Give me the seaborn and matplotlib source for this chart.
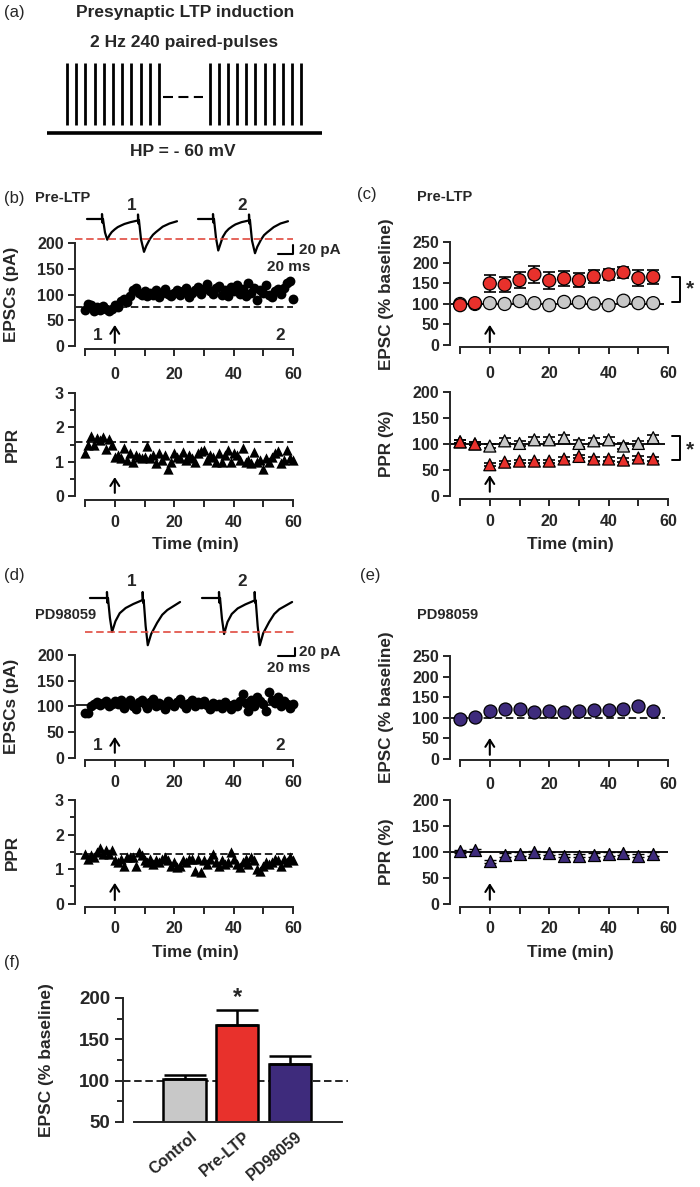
"""
Presynaptic LTP figure: pulse protocol, EPSC / PPR time courses and summary bars.
"""

import numpy as np
import pandas as pd
import seaborn as sns
import matplotlib.pyplot as plt
from matplotlib.transforms import ScaledTranslation

sns.set_style("ticks")
plt.rcParams["font.family"] = ["Liberation Sans", "DejaVu Sans"]
plt.rcParams["font.weight"] = "bold"
plt.rcParams["axes.labelweight"] = "bold"
plt.rcParams["axes.linewidth"] = 1.4

RED = "#e8312c"
GRAY = "#c8c8c8"
PURPLE = "#3e2b7c"

TICK_FS = 11.5
LABEL_FS = 12.3

# ---- data ----
pulse_left = [0, 1, 2, 3, 4, 5, 6, 7, 8, 9, 10]
pulse_right = [15.5, 16.5, 17.5, 18.5, 19.5, 20.5, 21.5, 22.5, 23.5, 24.5, 25.5]

minutes = list(range(-10, 61))

b_epsc = [70, 82, 80, 68, 75, 70, 77, 72, 68, 72,
          80, 76, 88, 92, 85, 97, 108, 112, 104, 100,
          106, 98, 104, 100, 108, 96, 104, 110, 102, 98,
          104, 108, 100, 106, 112, 96, 104, 108, 114, 102,
          110, 120, 106, 102, 112, 116, 100, 108, 98, 114,
          106, 118, 102, 110, 98, 122, 104, 112, 90, 108,
          104, 118, 100, 96, 106, 110, 102, 112, 122, 126, 92]
b_ppr = [1.25, 1.5, 1.75, 1.5, 1.68, 1.62, 1.72, 1.38, 1.65, 1.5,
         1.15, 1.2, 1.12, 1.4, 1.05, 1.25, 1.0, 1.2, 1.15, 1.1,
         1.15, 1.45, 1.1, 1.2, 0.95, 1.25, 1.05, 1.2, 0.8, 1.0,
         1.25, 1.15, 1.1, 1.28, 1.05, 1.2, 1.1, 1.0, 1.25, 1.3,
         1.35, 1.05, 1.2, 1.15, 1.0, 1.25, 1.0, 1.2, 1.35, 1.0,
         1.25, 1.2, 1.05, 1.4, 1.0, 1.05, 0.95, 1.28, 1.0, 1.05,
         0.8, 1.1, 1.0, 1.15, 1.25, 1.3, 0.95, 1.05, 1.35, 1.1, 1.05]
b_epsc_base = 76.5
b_ppr_base = 1.57

d_epsc = [88, 87, 100, 104, 108, 103, 106, 110, 100, 104,
          110, 104, 112, 98, 106, 113, 101, 96, 108, 112,
          104, 98, 108, 114, 100, 106, 102, 96, 110, 104,
          100, 108, 115, 104, 98, 106, 112, 100, 108, 104,
          110, 102, 96, 106, 100, 104, 98, 108, 102, 96,
          104, 100, 110, 124, 106, 92, 112, 100, 118, 110,
          104, 92, 128, 112, 106, 118, 100, 110, 104, 98, 104]
d_ppr = [1.45, 1.3, 1.4, 1.35, 1.5, 1.6, 1.45, 1.55, 1.45, 1.55,
         1.25, 1.2, 1.3, 1.1, 1.35, 1.35, 1.35, 1.1, 1.5, 1.4,
         1.25, 1.2, 1.3, 1.15, 1.25, 1.2, 1.3, 1.35, 1.25, 1.1,
         1.2, 1.05, 1.1, 1.25, 1.2, 1.3, 1.3, 0.95, 1.3, 0.9,
         1.25, 1.15, 1.3, 1.45, 1.2, 1.1, 1.25, 1.15, 1.2, 1.5,
         1.3, 1.15, 1.05, 1.2, 1.3, 1.15, 1.35, 1.25, 1.0, 0.95,
         1.1, 1.2, 1.15, 1.2, 1.3, 1.25, 1.1, 1.3, 1.2, 1.35, 1.25]
d_epsc_base = 102
d_ppr_base = 1.43

# example traces (ms, pA), paired pulses
b_trace_t = [0, 20, 20, 20.6, 21.3, 24, 27, 30, 33, 37, 41, 46, 50, 58, 66,
             68, 68, 68.6, 69.3, 72, 76, 79, 84, 88, 92, 101, 110, 120]
b_trace1 = [0, 0, 11, -8, 0, -30, -46, -36, -29, -23, -18, -14, -11, -7, -4,
            -3, 10, -10, -3, -45, -73, -60, -44, -35, -29, -17, -10, -5]
b_trace2 = [0, 0, 11, -8, 0, -42, -70, -55, -40, -29, -22, -16, -12, -7, -4,
            -3, 10, -10, -3, -48, -76, -62, -46, -36, -30, -18, -10, -5]
d_trace_t = [0, 20, 20, 20.6, 21.2, 23.5, 26, 30, 35, 42, 51, 62,
             62, 62.6, 63.2, 65.5, 68, 72, 79, 85, 91, 106]
d_trace1 = [0, 0, 15, -12, 0, -50, -85, -58, -38, -25, -15, -5,
            15, -12, -5, -70, -118, -90, -62, -42, -30, -10]
d_trace2 = [0, 0, 15, -12, 0, -52, -90, -60, -40, -26, -16, -6,
            15, -12, -6, -70, -118, -88, -60, -40, -28, -10]

bins = [-10, -5, 0, 5, 10, 15, 20, 25, 30, 35, 40, 45, 50, 55]
c_epsc_ctrl = [100, 100, 102, 100, 107, 102, 97, 105, 104, 101, 97, 108, 102, 102]
c_epsc_ctrl_err = [3, 3, 4, 4, 4, 4, 4, 4, 4, 4, 4, 4, 4, 4]
c_epsc_ltp = [97, 102, 150, 147, 158, 172, 157, 162, 158, 167, 172, 177, 163, 166]
c_epsc_ltp_err = [4, 4, 20, 18, 20, 20, 20, 18, 17, 16, 14, 14, 20, 17]
c_ppr_ctrl = [104, 100, 96, 106, 101, 108, 108, 112, 101, 106, 108, 96, 101, 112]
c_ppr_ctrl_err = [3, 3, 4, 5, 5, 5, 5, 6, 6, 5, 6, 5, 5, 6]
c_ppr_ltp = [104, 100, 60, 65, 67, 67, 67, 71, 76, 71, 71, 69, 73, 71]
c_ppr_ltp_err = [3, 3, 3, 3, 3, 3, 3, 3, 3, 3, 3, 3, 3, 3]

e_epsc = [98, 102, 117, 121, 121, 114, 117, 115, 117, 118, 119, 121, 128, 117]
e_epsc_err = [3, 3, 4, 4, 4, 4, 4, 4, 4, 4, 4, 4, 4, 4]
e_ppr = [101, 103, 82, 94, 96, 99, 97, 93, 93, 94, 96, 97, 93, 96]
e_ppr_err = [3, 3, 3, 3, 3, 3, 3, 3, 3, 3, 3, 3, 3, 3]

f_groups = ["Control", "Pre-LTP", "PD98059"]
f_mean = [102, 167, 120]
f_err = [5, 18, 10]

# ---- layout helpers (pixel boxes) ----
W, H = 700, 1187
fig = plt.figure(figsize=(W / 100, H / 100), dpi=100)


def rect(x0, y0, x1, y1):
    return [x0 / W, 1 - y1 / H, (x1 - x0) / W, (y1 - y0) / H]


def ftext(x, y, s, **kw):
    kw.setdefault("va", "center")
    fig.text(x / W, 1 - y / H, s, **kw)


X_LEFT = -13.4
DASH = (0, (4.5, 2.2))


def time_axes(box, ylim, yspan, yticks, yminor=None, xpad=6):
    ax = fig.add_axes(rect(*box))
    ax.patch.set_alpha(0)
    ax.set_xlim(X_LEFT, 62)
    ax.set_ylim(*ylim)
    sns.despine(ax=ax)
    ax.spines["left"].set_bounds(*yspan)
    ax.spines["bottom"].set_bounds(-10, 60)
    ax.set_xticks([0, 20, 40, 60])
    ax.set_xticks([-10, 10, 30, 50], minor=True)
    ax.set_yticks(yticks)
    if yminor is not None:
        ax.set_yticks(yminor, minor=True)
    ax.tick_params(axis="x", which="both", length=5, width=1.4, pad=xpad, labelsize=TICK_FS)
    ax.tick_params(axis="y", which="major", length=5, width=1.4, pad=3, labelsize=TICK_FS)
    ax.tick_params(axis="y", which="minor", length=3.5, width=1.4)
    return ax


def ylab(ax, text, x, y, size=LABEL_FS):
    ax.set_ylabel(text, fontsize=size)
    ax.yaxis.set_label_coords(x / W, 1 - y / H, transform=fig.transFigure)
    ax.yaxis.label.set_va("center")


def xlab(ax, text, x, y, size=LABEL_FS):
    ax.set_xlabel(text, fontsize=size)
    ax.xaxis.set_label_coords(x / W, 1 - y / H, transform=fig.transFigure)
    ax.xaxis.label.set_va("center")


def up_arrow(ax, x, y0, y1):
    ax.annotate("", xy=(x, y1), xytext=(x, y0),
                arrowprops=dict(arrowstyle="->, head_length=0.5, head_width=0.32",
                                lw=1.5, color="black", shrinkA=0, shrinkB=0))


def bracket(ax, x0, x1, ytop, ybot, ystar, xstar):
    ax.plot([x0, x1, x1, x0], [ytop, ytop, ybot, ybot], color="black", lw=1.4, clip_on=False)
    ax.text(xstar, ystar, "*", ha="center", va="center", fontsize=15)


def traces(box, xlim, ylim, t, tr1, tr2, off1, off2, red_y, red_x, bar_x, bar_y, bar_w, n_pos, n_y):
    ax = fig.add_axes(rect(*box))
    ax.axis("off")
    ax.set_xlim(*xlim)
    ax.set_ylim(*ylim)
    ax.plot(np.array(t) + off1, tr1, color="black", lw=1.6)
    ax.plot(np.array(t) + off2, tr2, color="black", lw=1.6)
    ax.hlines(red_y, red_x[0], red_x[1], colors="#e04a3f", linestyles=DASH, lw=1.2)
    ax.plot([bar_x - bar_w, bar_x, bar_x], [bar_y[1], bar_y[1], bar_y[0]], color="black", lw=1.5)
    ax.text(n_pos[0], n_y, "1", ha="center", va="center", fontsize=LABEL_FS)
    ax.text(n_pos[1], n_y, "2", ha="center", va="center", fontsize=LABEL_FS)
    return ax


def scatter_pair(ax, ctrl, ctrl_err, test, test_err, test_color, marker, size):
    df = pd.DataFrame({"time": bins + bins,
                       "value": ctrl + test,
                       "group": ["ctrl"] * len(bins) + ["test"] * len(bins)})
    ax.errorbar(bins, ctrl, yerr=ctrl_err, fmt="none", ecolor="black",
                elinewidth=1.2, capsize=4, capthick=1.2, zorder=2)
    ax.errorbar(bins, test, yerr=test_err, fmt="none", ecolor="black",
                elinewidth=1.2, capsize=4, capthick=1.2, zorder=2)
    sns.scatterplot(data=df, x="time", y="value", hue="group",
                    palette={"ctrl": GRAY, "test": test_color}, marker=marker,
                    s=size, edgecolor="black", linewidth=0.9, legend=False, ax=ax, zorder=3)
    ax.set_xlabel("")


# ---- (a) protocol ----
ax_a = fig.add_axes(rect(40, 55, 330, 140))
ax_a.axis("off")
ax_a.set_xlim(-2.93, 28.6)
ax_a.set_ylim(-0.24, 1.13)
ax_a.vlines(pulse_left, 0, 1, colors="black", lw=2)
ax_a.vlines(pulse_right, 0, 1, colors="black", lw=2)
ax_a.hlines(0.45, 10.4, 14.8, colors="black", linestyles=(0, (4.8, 2.6)), lw=1.5)
ax_a.hlines(-0.13, -2.2, 27.7, colors="black", lw=2.6)

ftext(4, 13, "(a)", fontsize=12, fontweight="normal")
ftext(185, 12, "Presynaptic LTP induction", ha="center", fontsize=12.5)
ftext(184, 42, "2 Hz 240 paired-pulses", ha="center", fontsize=12.5)
ftext(183, 152, "HP = - 60 mV", ha="center", fontsize=12.5)

# ---- (b) Pre-LTP example ----
ftext(4, 198, "(b)", fontsize=12, fontweight="normal")
ftext(35, 198, "Pre-LTP", fontsize=10.5)

ax = time_axes((75, 238, 299, 349), (-5.8, 210), (0, 200), [0, 50, 100, 150, 200], xpad=8)
sns.scatterplot(x=minutes, y=b_epsc, color="black", s=50, linewidth=0, ax=ax, zorder=3)
ax.hlines(b_epsc_base, X_LEFT, 60, colors="black", linestyles=DASH, lw=1.2)
ax.text(-5.7, 21, "1", ha="center", va="center", fontsize=LABEL_FS)
ax.text(55.5, 21, "2", ha="center", va="center", fontsize=LABEL_FS)
up_arrow(ax, 0, 6, 41)
ylab(ax, "EPSCs (pA)", 12, 294)

ax = time_axes((75, 391.3, 299, 500), (-0.117, 3.05), (0, 3), [0, 1, 2, 3], [0.5, 1.5, 2.5], xpad=6)
sns.scatterplot(x=minutes, y=b_ppr, color="black", marker="^", s=55, linewidth=0, ax=ax, zorder=3)
ax.hlines(b_ppr_base, X_LEFT, 60, colors="black", linestyles=DASH, lw=1.2)
up_arrow(ax, 0, 0.09, 0.55)
ylab(ax, "PPR", 12, 444)
xlab(ax, "Time (min)", 195, 545)

traces((75, 200, 300, 260), (0, 300), (-91.1, 42.2), b_trace_t, b_trace1, b_trace2,
       16, 164, -44.4, (0, 290.7), 290.7, (-57.8, -77.8), 20, (76, 222.7), 28.9)
ftext(299, 250, "20 pA", fontsize=11)
ftext(289, 267, "20 ms", ha="center", fontsize=11)

# ---- (c) Pre-LTP summary ----
ftext(357, 195, "(c)", fontsize=12, fontweight="normal")
ftext(417, 197, "Pre-LTP", fontsize=10.5)

ax = time_axes((450, 238.4, 674, 347), (-5, 260), (0, 250), [0, 50, 100, 150, 200, 250], xpad=9)
ax.hlines(100, X_LEFT, 58.5, colors="black", lw=1.3, zorder=1)
scatter_pair(ax, c_epsc_ctrl, c_epsc_ctrl_err, c_epsc_ltp, c_epsc_ltp_err, RED, "o", 88)
up_arrow(ax, 0, 7, 49)
bracket(ax, 61.4, 64, 166, 105, 136.6, 67.4)
ylab(ax, "EPSC (% baseline)", 387, 294)

ax = time_axes((450, 389.4, 674, 499), (-6, 205), (0, 200), [0, 50, 100, 150, 200], xpad=6)
ax.hlines(100, X_LEFT, 59, colors="black", lw=1.3, zorder=1)
scatter_pair(ax, c_ppr_ctrl, c_ppr_ctrl_err, c_ppr_ltp, c_ppr_ltp_err, RED, "^", 75)
up_arrow(ax, 0, 8, 40)
bracket(ax, 61.4, 64, 115, 69, 88, 67.4)
ylab(ax, "PPR (%)", 387, 444)
xlab(ax, "Time (min)", 570, 545)

# ---- (d) PD98059 example ----
ftext(4, 575, "(d)", fontsize=12, fontweight="normal")
ftext(35, 615, "PD98059", fontsize=10.5)

ax = time_axes((75, 649.9, 299, 760), (-4, 210), (0, 200), [0, 50, 100, 150, 200], xpad=6)
ax.hlines(d_epsc_base, X_LEFT, 60, colors="black", lw=1.2, zorder=1)
sns.scatterplot(x=minutes, y=d_epsc, color="black", s=50, linewidth=0, ax=ax, zorder=3)
ax.text(-5.7, 25, "1", ha="center", va="center", fontsize=LABEL_FS)
ax.text(55.5, 25, "2", ha="center", va="center", fontsize=LABEL_FS)
up_arrow(ax, 0, 10, 41)
ylab(ax, "EPSCs (pA)", 12, 706)

ax = time_axes((75, 798.3, 299, 907), (-0.1, 3.05), (0, 3), [0, 1, 2, 3], [0.5, 1.5, 2.5], xpad=5)
sns.scatterplot(x=minutes, y=d_ppr, color="black", marker="^", s=55, linewidth=0, ax=ax, zorder=3)
ax.hlines(d_ppr_base, X_LEFT, 60, colors="black", linestyles=DASH, lw=1.2)
up_arrow(ax, 0, 0.1, 0.6)
ylab(ax, "PPR", 12, 852)
xlab(ax, "Time (min)", 195, 952)

traces((75, 575, 300, 670), (0, 264.7), (-180, 57.5), d_trace_t, d_trace1, d_trace2,
       17.6, 149.4, -85, (11.8, 258.8), 258.8, (-125, -145), 20, (67, 196.4), 40)
ftext(299, 652, "20 pA", fontsize=11)
ftext(289, 668, "20 ms", ha="center", fontsize=11)

# ---- (e) PD98059 summary ----
ftext(360, 575, "(e)", fontsize=12, fontweight="normal")
ftext(417, 615, "PD98059", fontsize=10.5)

ax = time_axes((450, 651.9, 674, 760.2), (-3, 260), (0, 250), [0, 50, 100, 150, 200, 250], xpad=7)
ax.hlines(100, X_LEFT, 59, colors="black", linestyles=DASH, lw=1.2, zorder=1)
ax.errorbar(bins, e_epsc, yerr=e_epsc_err, fmt="none", ecolor="black", elinewidth=1.2, capsize=4, zorder=2)
sns.scatterplot(x=bins, y=e_epsc, color=PURPLE, s=88, edgecolor="black", linewidth=0.9, ax=ax, zorder=3)
up_arrow(ax, 0, 10, 51)
ylab(ax, "EPSC (% baseline)", 387, 707)

ax = time_axes((450, 797.4, 674, 907), (-6, 205), (0, 200), [0, 50, 100, 150, 200], xpad=5)
ax.hlines(100, X_LEFT, 60, colors="black", lw=1.3, zorder=1)
ax.errorbar(bins, e_ppr, yerr=e_ppr_err, fmt="none", ecolor="black", elinewidth=1.2, capsize=4, zorder=2)
sns.scatterplot(x=bins, y=e_ppr, color=PURPLE, marker="^", s=75, edgecolor="black", linewidth=0.9, ax=ax, zorder=3)
up_arrow(ax, 0, 8, 40)
ylab(ax, "PPR (%)", 387, 852)
xlab(ax, "Time (min)", 570, 952)

# ---- (f) summary bars ----
ftext(4, 963, "(f)", fontsize=12, fontweight="normal")
ax = fig.add_axes(rect(123, 989.7, 348, 1122))
ax.patch.set_alpha(0)
ax.axhline(100, color="black", linestyle=DASH, lw=1.2, zorder=0.5)
sns.barplot(x=f_groups, y=f_mean, hue=f_groups, palette=[GRAY, RED, PURPLE], errorbar=None,
            saturation=1, width=0.8, edgecolor="black", linewidth=1.8, legend=False, ax=ax, zorder=1)
ax.errorbar([0, 1, 2], f_mean, yerr=[[0, 0, 0], f_err], fmt="none", ecolor="black",
            elinewidth=1.8, capsize=15, capthick=1.8, zorder=2)
ax.text(1, 201, "*", ha="center", va="center", fontsize=17)
ax.set_xlim(-1.17, 3.11)
ax.set_ylim(50, 210)
sns.despine(ax=ax)
ax.spines["left"].set_bounds(50, 200)
ax.spines["bottom"].set_bounds(-0.97, 3.0)
ax.set_yticks([50, 100, 150, 200])
ax.set_yticks([75, 125, 175], minor=True)
ax.tick_params(axis="y", which="major", length=6, width=1.4, pad=3, labelsize=13.5)
ax.tick_params(axis="y", which="minor", length=4, width=1.4)
ax.tick_params(axis="x", length=0, pad=5, labelsize=11.5)
shift = ScaledTranslation(6 / 100, 0, fig.dpi_scale_trans)
for lab in ax.get_xticklabels():
    lab.set_rotation(40)
    lab.set_ha("right")
    lab.set_rotation_mode("anchor")
    lab.set_transform(lab.get_transform() + shift)
ylab(ax, "EPSC (% baseline)", 47, 1060, size=12.5)

plt.savefig("out.png", dpi=100)
